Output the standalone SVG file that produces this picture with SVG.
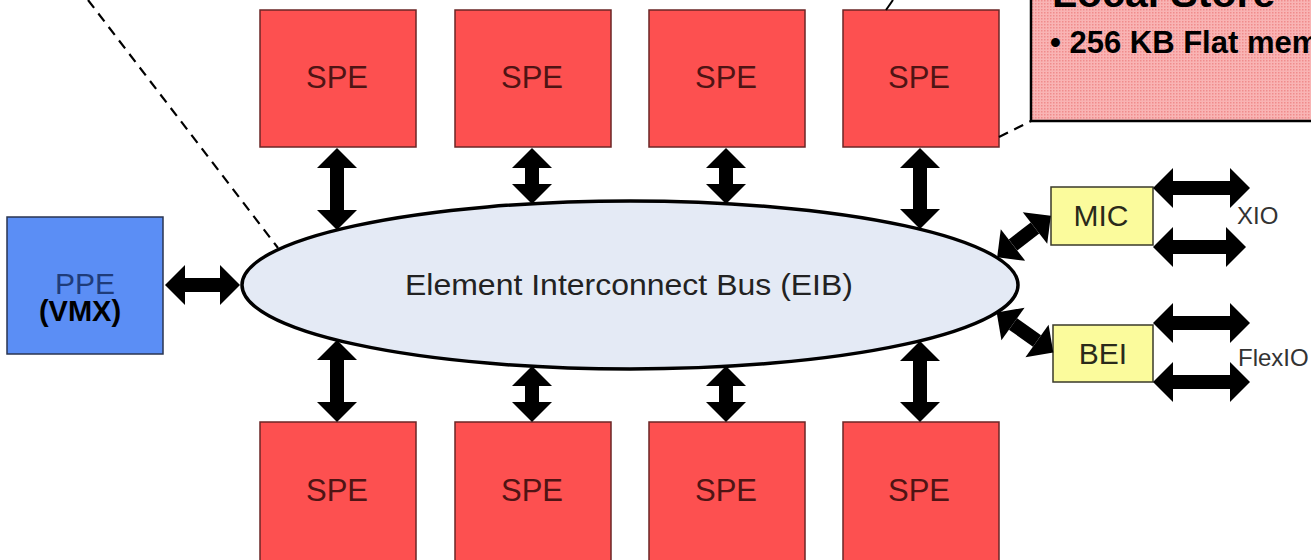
<svg xmlns="http://www.w3.org/2000/svg" width="1311" height="560" viewBox="0 0 1311 560">
<defs>
<style>
.spe rect{fill:#fd5050;stroke:#6b2626;stroke-width:1.5}
.spe text{font-family:"Liberation Sans",Arial,sans-serif;font-size:31px;fill:#4f1414;text-anchor:middle}
.io rect{fill:#fbfb9c;stroke:#3a3a2a;stroke-width:1.5}
.io text{font-family:"Liberation Sans",Arial,sans-serif;font-size:30px;fill:#2a2a1a;text-anchor:middle}
.lbl{font-family:"Liberation Sans",Arial,sans-serif;font-size:24px;fill:#333}
.arr{stroke:#000;stroke-width:14;fill:none;marker-start:url(#head);marker-end:url(#head)}
.dash{stroke:#000;stroke-width:2.2;stroke-dasharray:10 7;fill:none}
</style>
<marker id="head" markerUnits="userSpaceOnUse" markerWidth="20" markerHeight="40" viewBox="0 0 20 40" refX="0" refY="20" orient="auto-start-reverse" overflow="visible">
<path d="M0,0 L20,20 L0,40 Z" fill="#000"/>
</marker>
<pattern id="dots" width="3" height="3" patternUnits="userSpaceOnUse">
<rect width="3" height="3" fill="#f9b4b4"/>
<rect width="1.5" height="1.5" fill="#f08c8c"/>
</pattern>
</defs>
<rect width="1311" height="560" fill="#fff"/>

<g id="eib">
<ellipse cx="630" cy="285" rx="388" ry="84" fill="#e4eaf5" stroke="#000" stroke-width="3.5"/>
<text x="629" y="295" font-family="Liberation Sans, Arial, sans-serif" font-size="29" fill="#222" text-anchor="middle" textLength="448" lengthAdjust="spacingAndGlyphs">Element Interconnect Bus (EIB)</text>
</g>

<g id="local-store">
<rect x="1031" y="-10" width="300" height="131" fill="url(#dots)" stroke="#000" stroke-width="2.5"/>
<text x="1052" y="7" font-family="Liberation Sans, Arial, sans-serif" font-size="41" font-weight="bold" fill="#000">Local Store</text>
<text x="1050" y="53" font-family="Liberation Sans, Arial, sans-serif" font-size="31" font-weight="bold" fill="#000">• 256 KB Flat mem</text>
</g>

<g id="ppe">
<rect x="7" y="217" width="156" height="137" fill="#5b8ef5" stroke="#2a3550" stroke-width="1.5"/>
<text x="85" y="294" font-family="Liberation Sans, Arial, sans-serif" font-size="30" fill="#1f3c7a" text-anchor="middle">PPE</text>
<text x="80" y="321" font-family="Liberation Sans, Arial, sans-serif" font-size="29" font-weight="bold" fill="#000" text-anchor="middle">(VMX)</text>
</g>

<g id="spe-top-1" class="spe"><rect x="260" y="10" width="156" height="137"/><text x="337" y="88">SPE</text></g>
<g id="spe-top-2" class="spe"><rect x="455" y="10" width="156" height="137"/><text x="532" y="88">SPE</text></g>
<g id="spe-top-3" class="spe"><rect x="649" y="10" width="156" height="137"/><text x="726" y="88">SPE</text></g>
<g id="spe-top-4" class="spe"><rect x="843" y="10" width="156" height="137"/><text x="919" y="88">SPE</text></g>

<g id="spe-bot-1" class="spe"><rect x="260" y="422" width="156" height="150"/><text x="337" y="501">SPE</text></g>
<g id="spe-bot-2" class="spe"><rect x="455" y="422" width="156" height="150"/><text x="532" y="501">SPE</text></g>
<g id="spe-bot-3" class="spe"><rect x="649" y="422" width="156" height="150"/><text x="726" y="501">SPE</text></g>
<g id="spe-bot-4" class="spe"><rect x="843" y="422" width="156" height="150"/><text x="919" y="501">SPE</text></g>

<g id="mic" class="io"><rect x="1051" y="187" width="102" height="58"/><text x="1101" y="226">MIC</text></g>
<g id="bei" class="io"><rect x="1053" y="325" width="100" height="57"/><text x="1103" y="364">BEI</text></g>

<g id="labels">
<text class="lbl" x="1237" y="224">XIO</text>
<text class="lbl" x="1238" y="366">FlexIO</text>
</g>

<g id="connectors">
<line class="arr" x1="185" y1="285" x2="220" y2="285"/>
<line class="arr" x1="337" y1="168" x2="337" y2="210"/>
<line class="arr" x1="532" y1="168" x2="532" y2="184"/>
<line class="arr" x1="726" y1="168" x2="726" y2="184"/>
<line class="arr" x1="920" y1="168" x2="920" y2="209"/>
<line class="arr" x1="337" y1="360" x2="337" y2="402"/>
<line class="arr" x1="532" y1="386" x2="532" y2="402"/>
<line class="arr" x1="726" y1="386" x2="726" y2="402"/>
<line class="arr" x1="920" y1="361" x2="920" y2="402"/>
<line class="arr" x1="1013" y1="245" x2="1035" y2="228"/>
<line class="arr" x1="1013" y1="324" x2="1037" y2="341"/>
<line class="arr" x1="1173" y1="188" x2="1230" y2="188"/>
<line class="arr" x1="1173" y1="247" x2="1226" y2="247"/>
<line class="arr" x1="1173" y1="323" x2="1230" y2="323"/>
<line class="arr" x1="1173" y1="382" x2="1230" y2="382"/>
<line class="dash" x1="88" y1="0" x2="278" y2="248"/>
<line class="dash" x1="999" y1="137" x2="1031" y2="121"/>
<line x1="886" y1="10" x2="893" y2="0" stroke="#000" stroke-width="2"/>
</g>
</svg>
